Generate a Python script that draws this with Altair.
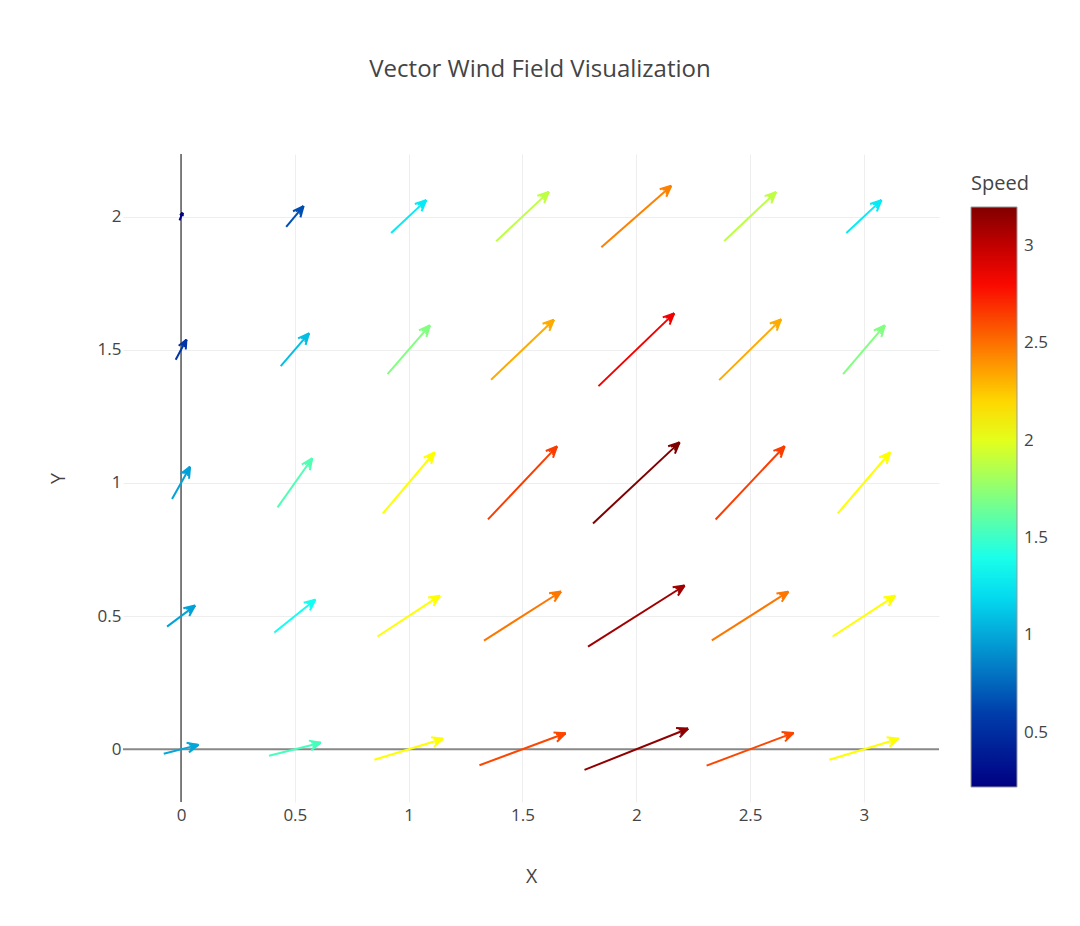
import altair as alt
import numpy as np
import pandas as pd

xs = [0, 0.5, 1, 1.5, 2, 2.5, 3]
ys = [0, 0.5, 1, 1.5, 2]

# full arrow extent in data units, one row per value of ys
u_rows = [
    [0.152, 0.227, 0.302, 0.378, 0.455, 0.382, 0.304],
    [0.123, 0.180, 0.274, 0.338, 0.424, 0.336, 0.275],
    [0.079, 0.152, 0.227, 0.303, 0.380, 0.303, 0.230],
    [0.047, 0.124, 0.186, 0.276, 0.332, 0.272, 0.183],
    [0.013, 0.076, 0.154, 0.231, 0.307, 0.227, 0.154],
]
v_rows = [
    [0.033, 0.049, 0.079, 0.120, 0.155, 0.123, 0.079],
    [0.079, 0.123, 0.153, 0.184, 0.229, 0.183, 0.153],
    [0.121, 0.184, 0.229, 0.274, 0.304, 0.275, 0.229],
    [0.075, 0.123, 0.183, 0.225, 0.273, 0.228, 0.183],
    [0.028, 0.078, 0.123, 0.185, 0.231, 0.183, 0.123],
]
speed_rows = [
    [1.00, 1.53, 2.08, 2.62, 3.15, 2.62, 2.08],
    [0.98, 1.38, 2.08, 2.48, 3.10, 2.48, 2.08],
    [0.98, 1.56, 2.08, 2.65, 3.20, 2.65, 2.08],
    [0.55, 1.09, 1.71, 2.33, 2.85, 2.33, 1.71],
    [0.22, 0.66, 1.26, 1.89, 2.45, 1.89, 1.26],
]

speed_ticks = [0.5, 1, 1.5, 2, 2.5, 3]
speed_lo, speed_hi = 0.22, 3.2
jet = ["#000083", "#003caa", "#039ed5", "#05ffff", "#82ff80",
       "#ffff00", "#fd8000", "#fa0000", "#800000"]

x_dom = [-0.255, 3.33]
y_dom = [-0.198, 2.235]
W, H = 816, 648
sx = W / (x_dom[1] - x_dom[0])
sy = H / (y_dom[1] - y_dom[0])

# arrowhead drawn as a fan of short strokes from the tip (angle deg, length px)
fan = [(24.4, 12.0), (16, 9.5), (8, 8.0), (0, 7.0), (-8, 8.0), (-16, 9.5), (-24.4, 12.0)]

segs = []
for j, y in enumerate(ys):
    for i, x in enumerate(xs):
        u, v, s = u_rows[j][i], v_rows[j][i], speed_rows[j][i]
        dxp, dyp = u * sx, v * sy
        L = np.hypot(dxp, dyp)
        k = min(1.0, L / 28)
        ex, ey = dxp / L, dyp / L
        tx, ty = x + u / 2, y + v / 2
        back = 5 * k
        segs.append(dict(speed=s, x0=x - u / 2, y0=y - v / 2,
                         x1=tx - back * ex / sx, y1=ty - back * ey / sy))
        for ang, ln in fan:
            a = np.radians(ang)
            bx = -ex * np.cos(a) + ey * np.sin(a)
            by = -ey * np.cos(a) - ex * np.sin(a)
            segs.append(dict(speed=s, x0=tx, y0=ty,
                             x1=tx + ln * k * bx / sx, y1=ty + ln * k * by / sy))
df = pd.DataFrame(segs)

font = "Open Sans"
grey = "#444"

xscale = alt.Scale(domain=x_dom, nice=False, zero=False)
yscale = alt.Scale(domain=y_dom, nice=False, zero=False)
cscale = alt.Scale(
    domain=[speed_lo + n * (speed_hi - speed_lo) / 8 for n in range(9)],
    range=jet, interpolate="rgb")

legend = alt.Legend(
    type="gradient", title="Speed", orient="none", legendX=848, legendY=20,
    direction="vertical", gradientLength=580, gradientThickness=46,
    gradientStrokeColor="#999", gradientStrokeWidth=1, values=speed_ticks,
    labelExpr="format(datum.value, '~g')", padding=0, labelFont=font,
    labelFontSize=17, labelColor=grey, labelOffset=7, labelOverlap=False,
    titleFont=font, titleFontSize=20, titleColor=grey,
    titleFontWeight="normal", titlePadding=13)

arrows = alt.Chart(df).mark_rule(strokeWidth=2, strokeCap="butt").encode(
    x=alt.X("x0:Q", scale=xscale, axis=alt.Axis(
        title="X", values=xs, format="~g", titleX=408, titleY=74,
        titleBaseline="middle", titleAlign="center")),
    x2="x1:Q",
    y=alt.Y("y0:Q", scale=yscale, axis=alt.Axis(
        title="Y", values=ys, format="~g", titleX=-65, titleY=324,
        titleBaseline="middle", titleAlign="center", labelPadding=2)),
    y2="y1:Q",
    color=alt.Color("speed:Q", scale=cscale, legend=legend),
)

zero = alt.Chart(pd.DataFrame({"z": [0]}))
zero_x = zero.mark_rule(color="#555", strokeWidth=1.5).encode(x=alt.datum(0))
zero_y = zero.mark_rule(color="#888", strokeWidth=2).encode(y=alt.datum(0))

chart = alt.layer(zero_x, zero_y, arrows).properties(
    width=W, height=H,
    autosize=alt.AutoSizeParams(type="none"),
    padding={"left": 115, "top": 146, "right": 133, "bottom": 100},
    title=alt.TitleParams(
        "Vector Wind Field Visualization", font=font, fontSize=24,
        fontWeight="normal", color=grey, anchor="middle", dx=9,
        baseline="alphabetic", offset=52),
).configure(background="white").configure_view(stroke=None).configure_axis(
    domain=False, ticks=False, grid=True, gridColor="#eee", gridWidth=1,
    labelFont=font, labelFontSize=17, labelColor=grey, labelPadding=5,
    titleFont=font, titleFontSize=19.5, titleColor=grey, titleFontWeight="normal",
)

chart.save("out.html", embed_options={"renderer": "svg", "actions": False})
